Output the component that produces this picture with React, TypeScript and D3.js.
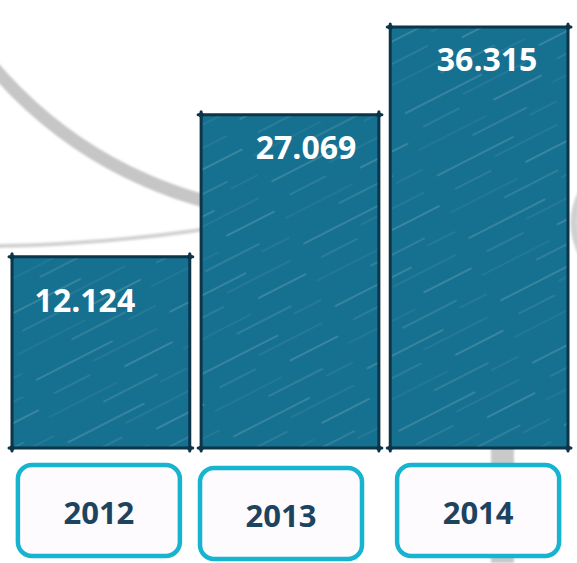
import { useEffect, useRef } from "react";
import * as d3 from "d3";

// chart data
const years = ["2012", "2013", "2014"];
const totals = [12.124, 27.069, 36.315];
const totalLabels = ["12.124", "27.069", "36.315"];

// label / box nudges (layout only, px)
const labelDx = [-16, 16, 8];
const labelDy = [55, 44, 44];
const boxDx = [-2, -9, -1];

const W = 577;
const H = 563;

function App() {
  const svgRef = useRef<SVGSVGElement>(null);

  useEffect(() => {
    const svg = d3.select(svgRef.current);
    svg.selectAll("*").remove();

    const x = d3.scaleBand().domain(years).range([12, 568]).paddingInner(0.06);
    const y = d3.scaleLinear().domain([-8, 38]).range([448, 11]);
    const base = y(-8);

    const defs = svg.append("defs");
    const pat = defs
      .append("pattern")
      .attr("id", "streaks")
      .attr("patternUnits", "userSpaceOnUse")
      .attr("width", 150)
      .attr("height", 70)
      .attr("patternTransform", "rotate(-27)");
    pat.append("rect").attr("width", 150).attr("height", 70).attr("fill", "#16708f");
    const streaks = [
      [10, 95, 5, 0.28],
      [70, 140, 14, 0.12],
      [20, 60, 25, 0.18],
      [95, 148, 33, 0.3],
      [5, 80, 44, 0.1],
      [60, 120, 55, 0.22],
      [120, 150, 63, 0.12],
    ];
    streaks.forEach(([x1, x2, yy, o]) => {
      pat
        .append("line")
        .attr("x1", x1)
        .attr("x2", x2)
        .attr("y1", yy)
        .attr("y2", yy)
        .attr("stroke", "#ffffff")
        .attr("stroke-opacity", o)
        .attr("stroke-width", 1.2)
        .attr("stroke-linecap", "round");
    });
    defs
      .append("filter")
      .attr("id", "soft")
      .append("feGaussianBlur")
      .attr("stdDeviation", 0.8);

    // grey swoosh behind the bars
    const bg = svg.append("g").attr("filter", "url(#soft)");
    const ring = d3.path();
    ring.arc(316, -208, 424, Math.PI * 0.52, Math.PI * 0.98);
    bg.append("path")
      .attr("d", ring.toString())
      .attr("fill", "none")
      .attr("stroke", "#c6c6c6")
      .attr("stroke-width", 13);
    const thin = d3.path();
    thin.moveTo(-5, 246);
    thin.quadraticCurveTo(130, 244, 260, 220);
    bg.append("path")
      .attr("d", thin.toString())
      .attr("fill", "none")
      .attr("stroke", "#d2d2d2")
      .attr("stroke-width", 4);
    const right = d3.path();
    right.moveTo(588, 182);
    right.quadraticCurveTo(560, 222, 588, 265);
    bg.append("path")
      .attr("d", right.toString())
      .attr("fill", "none")
      .attr("stroke", "#d0d0d0")
      .attr("stroke-width", 7);
    bg.append("rect")
      .attr("x", 491)
      .attr("y", 430)
      .attr("width", 23)
      .attr("height", H - 430)
      .attr("fill", "#c9c9c9");

    // bars
    const bars = svg
      .append("g")
      .selectAll("g")
      .data(years)
      .join("g");

    bars
      .append("rect")
      .attr("x", (d) => x(d)!)
      .attr("y", (d, i) => y(totals[i]))
      .attr("width", x.bandwidth())
      .attr("height", (d, i) => base - y(totals[i]))
      .attr("fill", "url(#streaks)");

    // sketchy outline with overshoot at the corners
    const ink = "#0c3549";
    bars.each(function (d, i) {
      const g = d3.select(this);
      const x0 = x(d)!;
      const x1 = x0 + x.bandwidth();
      const y0 = y(totals[i]);
      const y1 = base;
      const o = 3;
      const segs = [
        [x0 - o, y0, x1 + o, y0],
        [x0 - o, y1, x1 + o, y1],
        [x0, y0 - o, x0, y1 + o],
        [x1, y0 - o, x1, y1 + o],
      ];
      segs.forEach(([a, b, c, e]) => {
        g.append("line")
          .attr("x1", a)
          .attr("y1", b)
          .attr("x2", c)
          .attr("y2", e)
          .attr("stroke", ink)
          .attr("stroke-width", 3)
          .attr("stroke-linecap", "round");
      });
      [
        [x0, y0],
        [x1, y0],
        [x0, y1],
        [x1, y1],
      ].forEach(([cx, cy]) => {
        g.append("circle").attr("cx", cx).attr("cy", cy).attr("r", 2.6).attr("fill", ink);
      });
    });

    bars
      .append("text")
      .attr("x", (d, i) => x(d)! + x.bandwidth() / 2 + labelDx[i])
      .attr("y", (d, i) => y(totals[i]) + labelDy[i])
      .attr("text-anchor", "middle")
      .attr("font-family", "'Open Sans', sans-serif")
      .attr("font-weight", 700)
      .attr("font-size", 32)
      .attr("fill", "#ffffff")
      .text((d, i) => totalLabels[i]);

    // year boxes
    const boxW = 162;
    const boxes = svg
      .append("g")
      .selectAll("g")
      .data(years)
      .join("g")
      .attr("transform", (d, i) => `translate(${x(d)! + x.bandwidth() / 2 + boxDx[i]},0)`);

    boxes
      .append("rect")
      .attr("x", -boxW / 2)
      .attr("y", (d, i) => (i === 1 ? 468 : 465))
      .attr("width", boxW)
      .attr("height", 91)
      .attr("rx", 14)
      .attr("fill", "#fdfbfe")
      .attr("stroke", "#17b4cf")
      .attr("stroke-width", 4.5);

    boxes
      .append("text")
      .attr("y", (d, i) => (i === 1 ? 527 : 524))
      .attr("text-anchor", "middle")
      .attr("font-family", "'Open Sans', sans-serif")
      .attr("font-weight", 700)
      .attr("font-size", 31)
      .attr("fill", "#1c4460")
      .text((d) => d);
  }, []);

  return (
    <svg
      ref={svgRef}
      width={W}
      height={H}
      style={{ position: "absolute", left: 0, top: 0, background: "#ffffff" }}
    />
  );
}

export default App;
